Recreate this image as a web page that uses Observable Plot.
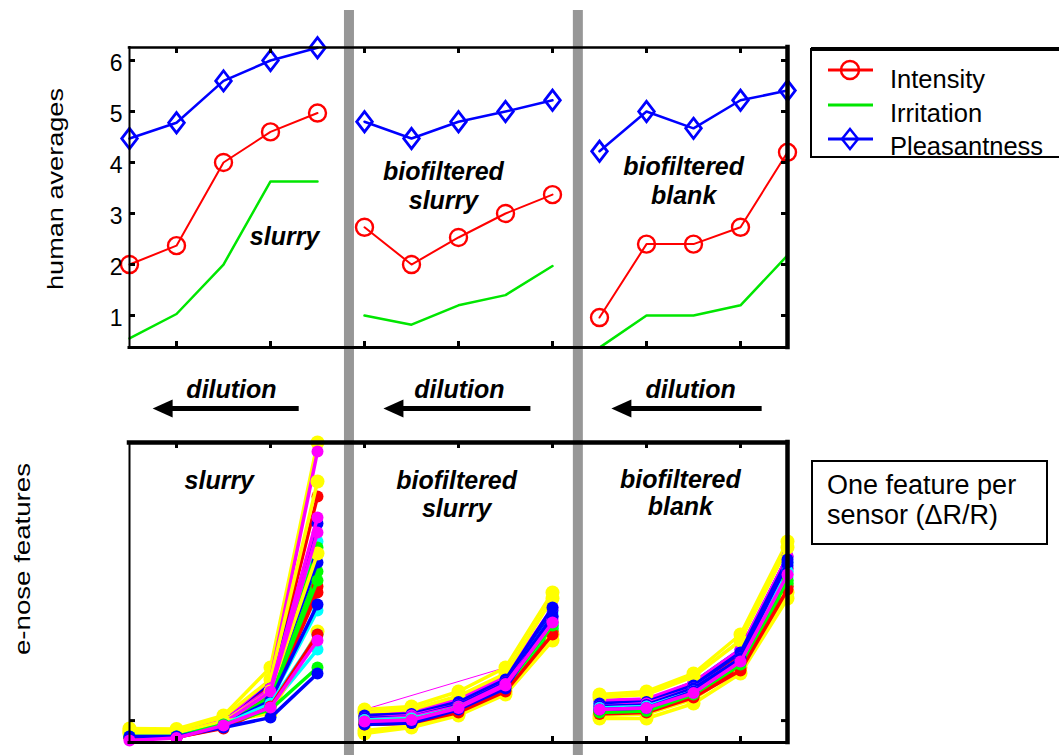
<!DOCTYPE html>
<html><head><meta charset="utf-8">
<script src="https://cdn.jsdelivr.net/npm/d3@7"></script>
<script src="https://cdn.jsdelivr.net/npm/@observablehq/plot@0.6"></script>
<style>
html,body{margin:0;padding:0;background:#fff;}
#wrap{position:relative;width:1059px;height:755px;overflow:hidden;font-family:"Liberation Sans",Arial,sans-serif;background:#fff;}
</style></head><body><div id="wrap"></div>
<script>
// ---------------- data ----------------
const positions = [1,2,3,4,5,6,7,8,9,10,11,12,13,14,15];
const groupOf   = [0,0,0,0,0,1,1,1,1,1,2,2,2,2,2];
const groupNames = ["slurry", "biofiltered slurry", "biofiltered blank"];

// human panel averages
const intensity    = [2.0, 2.37, 4.0, 4.6, 4.97,  2.73, 2.0, 2.53, 3.0, 3.37,  0.96, 2.4, 2.4, 2.73, 4.2];
const irritation   = [0.55, 1.03, 2.0, 3.63, 3.63, 1.0, 0.82, 1.2, 1.4, 1.97,  0.37, 1.0, 1.0, 1.2, 2.18];
const pleasantness = [4.47, 4.78, 5.6, 6.0, 6.25,  4.8, 4.47, 4.8, 5.0, 5.22,  4.22, 5.0, 4.67, 5.22, 5.41];
const humanSeries = ["Intensity", "Irritation", "Pleasantness"];
const humanColors = ["#ff0000", "#00e600", "#0000ff"];
const humanTicks = [1, 2, 3, 4, 5, 6];
const xTicks = [2, 4, 6, 8, 10, 12, 14];

// e-nose features (one feature per sensor, arbitrary units), listed in drawing order
const sensorColors = [
  "#ffff00","#00ffff","#ff0000","#00ff00","#0000ff","#ff00ff",
  "#ffff00","#00ffff","#ff0000","#00ff00","#0000ff","#ff00ff",
  "#ffff00","#00ffff","#ff0000","#00ff00","#0000ff","#ff00ff",
  "#ffff00","#00ffff","#ff0000","#00ff00","#0000ff","#ff00ff"
];
const sensorValues = [
  [4.7, 4.5, 9, 25, 100,   11, 12, 17, 25, 50,     16, 17, 23, 36, 67],
  [3, 2.5, 7, 17, 67,      9, 9.5, 13.5, 21, 43,   13, 13.5, 19, 29, 60],
  [2, 2, 8, 19, 82,        8.5, 9, 13, 20, 40,     12, 12.5, 18, 29, 58],
  [2, 2, 7, 16, 65,        7, 7.5, 11.5, 18.5, 39, 11, 11.5, 16.5, 26, 54],
  [3, 3, 8, 20, 73,        9, 10, 14, 22, 44,      14, 14, 20, 31, 62],
  [3, 3, 7.5, 21, 97,      10, 10.5, 14.5, 22, 45, 14, 14.5, 20, 31, 62],

  [4, 4, 8.5, 21, 87,      10, 11, 15.5, 23, 48,   15, 16, 22, 34, 65],
  [2, 2, 6, 14, 44,        7.5, 8, 12, 19, 40,     12, 12.5, 17.5, 28, 57],
  [1.5, 1.7, 5, 14, 50,    6, 6.5, 10, 17, 37,     10, 10.5, 15, 25, 52],
  [2, 2, 7, 15, 57,        7.5, 8, 12, 19, 38,     10.5, 11, 16, 26, 53],
  [2, 2, 7, 18, 60,        9, 9.5, 13.5, 21, 45,   13, 13.5, 19, 30, 61],
  [2, 2, 7, 18, 75,        8, 9, 12.5, 20, 41,     12, 13, 18, 28, 58],

  [3.5, 3, 7, 17, 63,      4, 5.5, 9.5, 17, 36,    9, 9.5, 14.5, 25, 50],
  [2, 2, 6, 12, 31,        7, 7.5, 11, 18, 38,     11, 11.5, 16.5, 26, 55],
  [2, 2, 6, 15, 52,        6.5, 7, 10.5, 17.5, 37, 10, 11, 15.5, 25, 52],
  [2, 2, 6, 15, 54,        7, 7.5, 11, 18, 38,     10.5, 11, 16, 26, 53],
  [2, 2, 6, 14, 46,        8, 8.5, 12.5, 20, 42,   12, 12.5, 18, 28, 59],
  [2, 2, 6.5, 17, 70,      7.5, 8.5, 12, 19.5, 40, 11.5, 12, 17, 27, 56],

  [3, 3, 7, 9.7, 37,       3, 5, 9, 16, 34,        8, 8, 13, 23, 48],
  [2, 2, 6, 13, 36,        7.5, 8, 11.5, 18.5, 39, 11.5, 12, 17, 27, 57],
  [1.5, 1.7, 4.7, 12, 36,  6, 6.5, 10, 17, 36,     9.5, 10, 15, 24, 51],
  [2, 2, 6, 11, 25,        7, 7.5, 11.5, 18.5, 39, 10, 10.5, 16, 26, 54],
  [2, 2, 5, 8.3, 23,       6, 6.5, 11, 18, 42,     11, 11.5, 17, 28, 60],
  [0.7, 1.5, 5.7, 11.7, 34, 7, 7.5, 11.5, 19, 40, 11, 11.5, 16.5, 27, 56]
];
const thinSensorPos = [6, 9];
const thinSensorValues = [11, 25];
const enoseTicks = [7.3];

// annotations
const panelLabelText = ["slurry", "biofiltered\nslurry", "biofiltered\nblank"];
const topLabelX = [4.3, 7.68, 12.79];
const topLabelY = [2.57, 3.56, 3.65];
const bottomLabelX = [2.91, 7.96, 12.72];
const bottomLabelY = [87.3, 82.8, 83.3];
const arrowTail = [4.6, 9.53, 14.45];
const arrowTip = [1.62, 6.53, 11.38];
const dilutionX = [3.17, 8.02, 12.94];
const separators = [5.68, 10.55];

// ---------------- build ----------------
const W = 1059;
const FONT = "'Liberation Sans', Arial, sans-serif";
const wrap = document.getElementById("wrap");
function place(el, top, z) {
  el.style.position = "absolute"; el.style.left = "0px"; el.style.top = top + "px";
  el.style.zIndex = z; el.style.overflow = "visible";
  wrap.appendChild(el);
}
const diamond = {
  draw(ctx, size) {
    const r = Math.sqrt(size / Math.PI), h = r * 1.3;
    ctx.moveTo(0, -h); ctx.lineTo(r, 0); ctx.lineTo(0, h); ctx.lineTo(-r, 0); ctx.closePath();
  }
};
const arrowHead = {
  draw(ctx, size) {
    const r = Math.sqrt(size / Math.PI);
    ctx.moveTo(-0.6 * r, 0); ctx.lineTo(1.4 * r, -0.9 * r); ctx.lineTo(1.4 * r, 0.9 * r); ctx.closePath();
  }
};

const humanRows = [];
[intensity, irritation, pleasantness].forEach((arr, s) => {
  arr.forEach((v, i) => humanRows.push({series: humanSeries[s], color: humanColors[s], pos: positions[i], group: groupOf[i], value: v}));
});

const topY = [0.373, 6.255];
const plotW = 658;
const ux = 14 / plotW;
const uyTop = (topY[1] - topY[0]) / 300;
const tickLen = 6;

const frameMarks = (xd, yd, uy, wTop, wBottom, wLeft, wRight, yt) => [
  Plot.ruleY([yd[1]], {stroke: "black", strokeWidth: wTop, strokeLinecap: "square"}),
  Plot.ruleY([yd[0]], {stroke: "black", strokeWidth: wBottom, strokeLinecap: "square"}),
  Plot.ruleX([xd[0]], {stroke: "black", strokeWidth: wLeft, strokeLinecap: "square"}),
  Plot.ruleX([xd[1]], {stroke: "black", strokeWidth: wRight, strokeLinecap: "square"}),
  Plot.ruleX(xTicks, {x: d => d, y1: yd[1], y2: yd[1] - tickLen * uy, stroke: "black", strokeWidth: 3}),
  Plot.ruleX(xTicks, {x: d => d, y1: yd[0], y2: yd[0] + tickLen * uy, stroke: "black", strokeWidth: 3}),
  Plot.ruleY(yt, {y: d => d, x1: xd[0], x2: xd[0] + tickLen * ux, stroke: "black", strokeWidth: 3}),
  Plot.ruleY(yt, {y: d => d, x1: xd[1], x2: xd[1] - tickLen * ux, stroke: "black", strokeWidth: 3})
];

const labelMarks = (xs, ys, lh) => Plot.text(panelLabelText.map((t, i) => ({t, x: xs[i], y: ys[i]})), {
  x: "x", y: "y", text: "t", fontSize: 25, fontWeight: "bold", fontStyle: "italic",
  lineHeight: lh, fill: "black", fontFamily: FONT
});

const widths = {Intensity: 2, Irritation: 2.5, Pleasantness: 2.5};
const topPlot = Plot.plot({
  width: W, height: 370, marginTop: 47, marginBottom: 23, marginLeft: 129, marginRight: W - 787,
  x: {domain: [1, 15], axis: null},
  y: {domain: topY, axis: null},
  color: {type: "identity"},
  style: {background: "transparent", overflow: "visible", fontFamily: FONT},
  marks: [
    ...humanSeries.map(s => Plot.line(humanRows.filter(d => d.series === s), {
      x: "pos", y: "value", z: "group", stroke: "color", strokeWidth: widths[s], strokeLinejoin: "round"
    })),
    Plot.dot(humanRows.filter(d => d.series === "Intensity"), {x: "pos", y: "value", r: 8.5, stroke: "color", strokeWidth: 2.4, fill: "none"}),
    Plot.dot(humanRows.filter(d => d.series === "Pleasantness"), {x: "pos", y: "value", r: 7.8, symbol: diamond, stroke: "color", strokeWidth: 2.8, fill: "none"}),
    ...frameMarks([1, 15], topY, uyTop, 2.5, 3, 2, 4.5, humanTicks),
    Plot.text(humanTicks, {y: d => d, frameAnchor: "left", text: d => String(d), textAnchor: "end", dx: -7, dy: 3, fontSize: 23, fill: "black", fontFamily: FONT}),
    labelMarks(topLabelX, topLabelY, 1.16)
  ]
});
place(topPlot, 0, 2);

// middle: dilution arrows
const arrows = arrowTail.map((t, i) => ({tail: t, tip: arrowTip[i], label: dilutionX[i]}));
const midPlot = Plot.plot({
  width: W, height: 70, marginTop: 0, marginBottom: 0, marginLeft: 129, marginRight: W - 787,
  x: {domain: [1, 15], axis: null},
  y: {domain: [0, 1], axis: null},
  style: {background: "transparent", overflow: "visible", fontFamily: FONT},
  marks: [
    Plot.link(arrows, {x1: "tail", x2: "tip", y1: () => 0.314, y2: () => 0.314, stroke: "black", strokeWidth: 5, strokeLinecap: "butt"}),
    Plot.dot(arrows, {x: "tip", y: () => 0.314, symbol: arrowHead, r: 10, fill: "black", stroke: "none"}),
    Plot.text(arrows, {x: "label", y: () => 0.314, text: () => "dilution", dy: -11, lineAnchor: "bottom",
      fontSize: 25, fontWeight: "bold", fontStyle: "italic", fill: "black", fontFamily: FONT})
  ]
});
place(midPlot, 360, 2);

// bottom: e-nose features
const botY = [0, 100];
const uyBot = (botY[1] - botY[0]) / 300;
const sensorMarks = [];
sensorValues.forEach((vals, s) => {
  const rows = vals.map((v, i) => ({pos: positions[i], group: groupOf[i], value: v, color: sensorColors[s]}));
  sensorMarks.push(Plot.line(rows, {x: "pos", y: "value", z: "group", stroke: "color", strokeWidth: 3.5, strokeLinejoin: "round"}));
  sensorMarks.push(Plot.dot(rows, {x: "pos", y: "value", r: sensorColors[s] === "#ffff00" ? 7 : 6, fill: "color", stroke: "none"}));
});
const thinRows = thinSensorPos.map((p, i) => ({pos: p, value: thinSensorValues[i]}));
const botPlot = Plot.plot({
  width: W, height: 335, marginTop: 22, marginBottom: 13, marginLeft: 129, marginRight: W - 787,
  x: {domain: [1, 15], axis: null},
  y: {domain: botY, axis: null},
  color: {type: "identity"},
  style: {background: "transparent", overflow: "visible", fontFamily: FONT},
  marks: [
    Plot.line(thinRows, {x: "pos", y: "value", stroke: "#ff00ff", strokeWidth: 1}),
    ...sensorMarks,
    ...frameMarks([1, 15], botY, uyBot, 4.5, 3, 2, 4.5, enoseTicks),
    labelMarks(bottomLabelX, bottomLabelY, 1.1)
  ]
});
place(botPlot, 420, 2);

// separators (beneath the plots)
const xs = topPlot.scale("x");
const sep = d3.create("svg").attr("width", W).attr("height", 755);
separators.forEach(p => {
  sep.append("rect").attr("x", xs.apply(p) - 5).attr("y", 10).attr("width", 10).attr("height", 745).attr("fill", "#979797");
});
place(sep.node(), 0, 1);

// overlay: axis titles, legend, note box
const ov = d3.create("svg").attr("width", W).attr("height", 755).style("font-family", FONT);
ov.append("text").attr("transform", "translate(63,189) rotate(-90)").attr("text-anchor", "middle")
  .attr("font-size", 22).attr("textLength", 202).attr("lengthAdjust", "spacingAndGlyphs").text("human averages");
ov.append("text").attr("transform", "translate(30,559) rotate(-90)").attr("text-anchor", "middle")
  .attr("font-size", 22).attr("textLength", 192).attr("lengthAdjust", "spacingAndGlyphs").text("e-nose features");

const lg = ov.append("g");
lg.append("rect").attr("x", 811).attr("y", 49).attr("width", 270).attr("height", 108).attr("fill", "white").attr("stroke", "black").attr("stroke-width", 2);
lg.append("line").attr("x1", 811).attr("x2", 1070).attr("y1", 49).attr("y2", 49).attr("stroke", "black").attr("stroke-width", 4);
const legY = [70, 105, 139], legBase = [88, 122, 155];
humanSeries.forEach((s, i) => {
  lg.append("line").attr("x1", 828).attr("x2", 873).attr("y1", legY[i]).attr("y2", legY[i]).attr("stroke", humanColors[i]).attr("stroke-width", 3);
  lg.append("text").attr("x", 890).attr("y", legBase[i]).attr("font-size", 25.5).attr("fill", "black").text(s);
});
lg.append("circle").attr("cx", 850).attr("cy", legY[0]).attr("r", 9).attr("fill", "none").attr("stroke", humanColors[0]).attr("stroke-width", 2.5);
lg.append("path").attr("d", `M850,${legY[2]-10}L858,${legY[2]}L850,${legY[2]+10}L842,${legY[2]}Z`).attr("fill", "none").attr("stroke", humanColors[2]).attr("stroke-width", 2.5);

const nb = ov.append("g");
nb.append("rect").attr("x", 812).attr("y", 461).attr("width", 235).attr("height", 83).attr("fill", "white").attr("stroke", "black").attr("stroke-width", 2);
nb.append("text").attr("x", 827).attr("y", 494).attr("font-size", 27).text("One feature per");
nb.append("text").attr("x", 827).attr("y", 524).attr("font-size", 27).text("sensor (\u0394R/R)");
place(ov.node(), 0, 3);
</script></body></html>
